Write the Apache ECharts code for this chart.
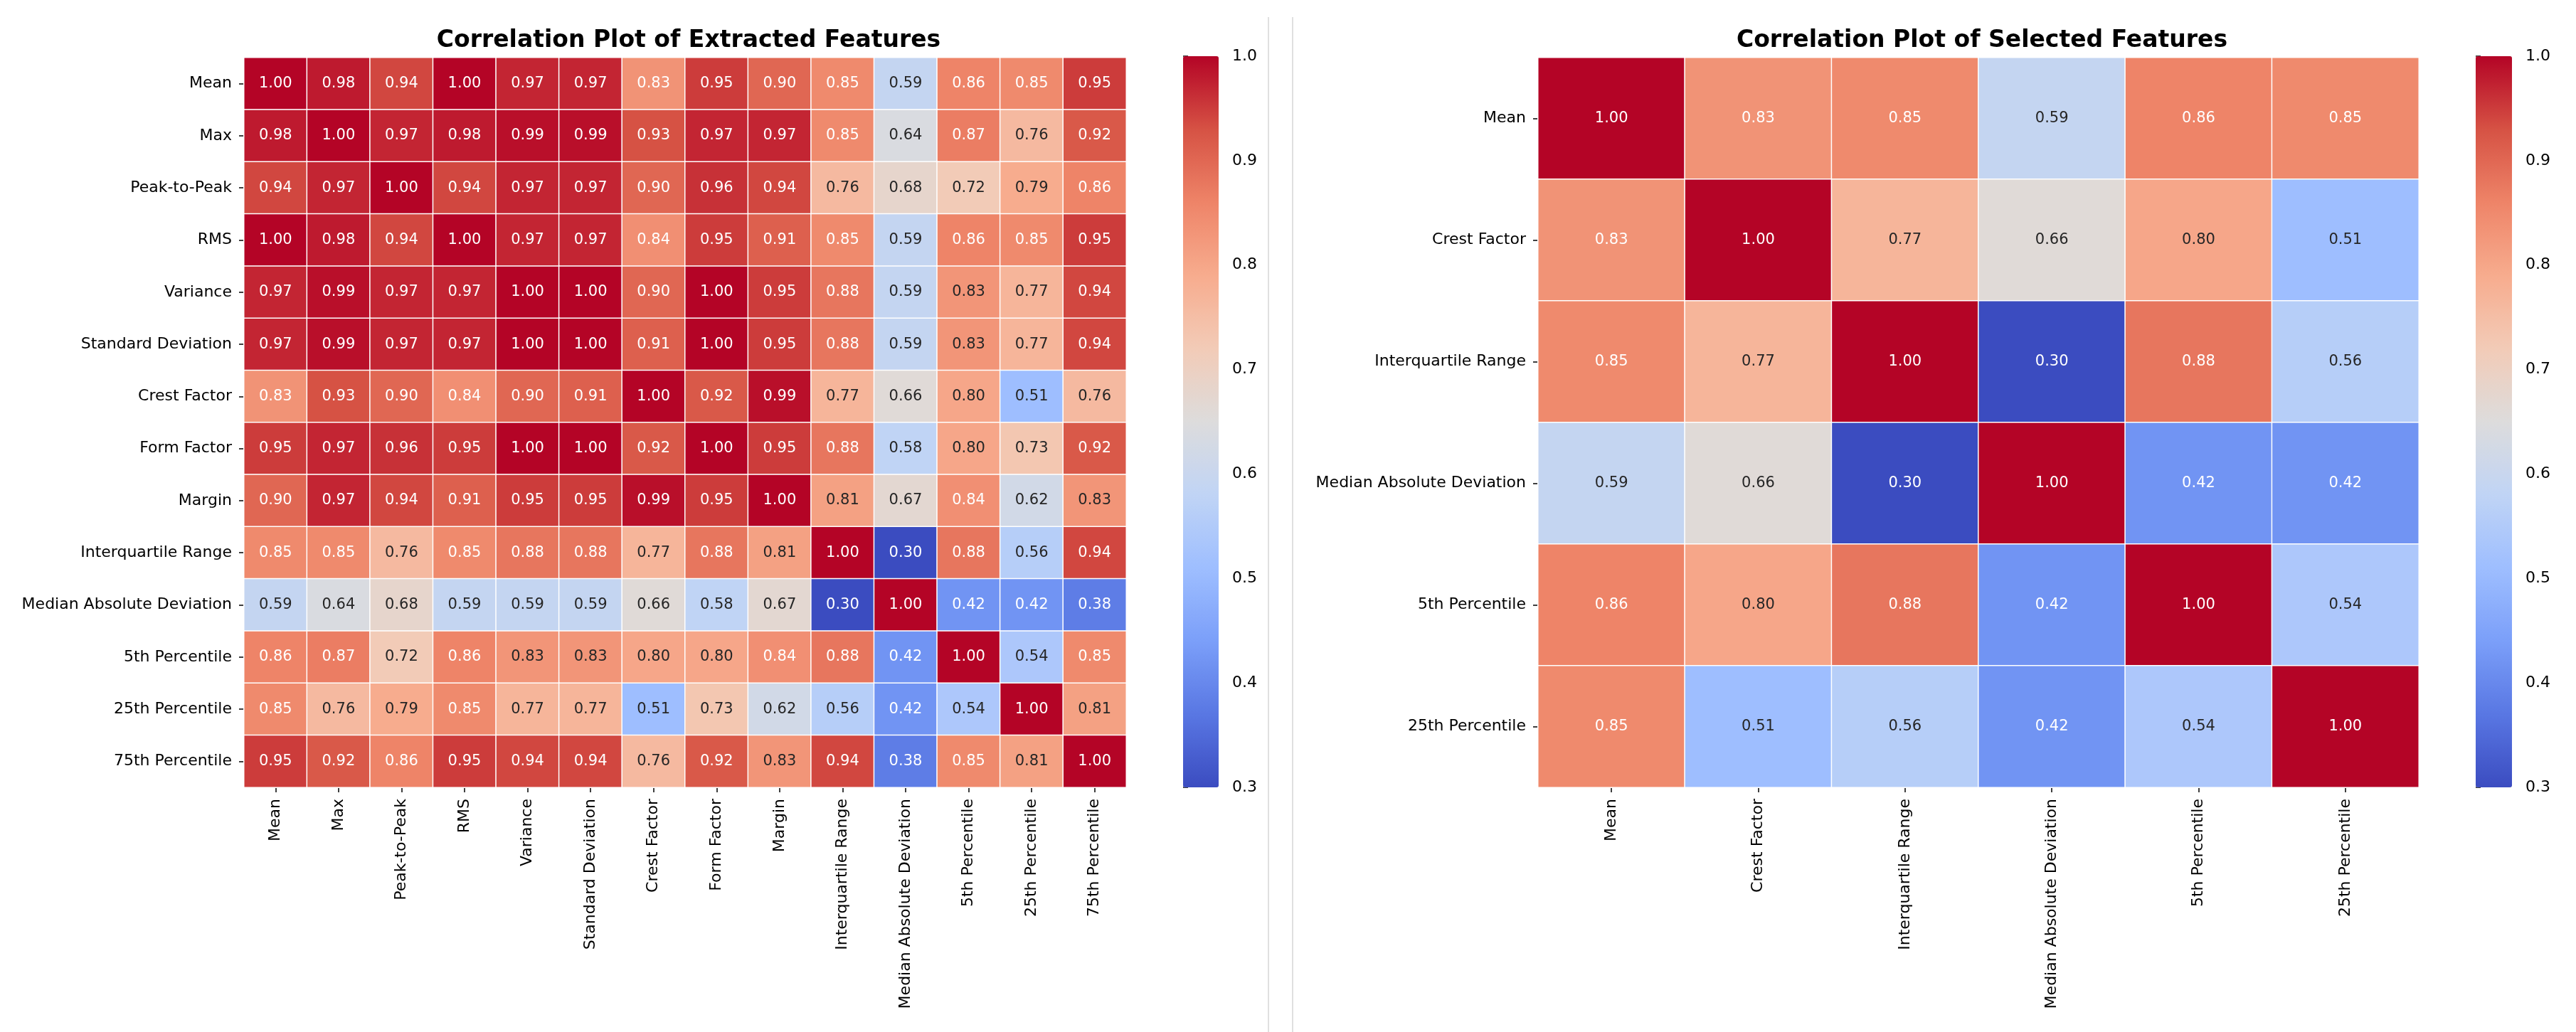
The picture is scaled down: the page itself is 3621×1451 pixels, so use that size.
<!DOCTYPE html>
<html><head><meta charset="utf-8">
<script src="https://cdn.jsdelivr.net/npm/echarts@6/dist/echarts.min.js"></script>
<style>html,body{margin:0;padding:0;background:#fff}#chart{width:3621px;height:1451px}</style>
</head><body><div id="chart"></div>
<script>
// ---------- data ----------
const features = ['Mean','Max','Peak-to-Peak','RMS','Variance','Standard Deviation','Crest Factor','Form Factor','Margin','Interquartile Range','Median Absolute Deviation','5th Percentile','25th Percentile','75th Percentile'];
const rowMean   = [1.00,0.98,0.94,1.00,0.97,0.97,0.834,0.95,0.90,0.85,0.59,0.86,0.85,0.95];
const rowMax    = [0.98,1.00,0.97,0.98,0.99,0.99,0.93,0.97,0.97,0.85,0.64,0.87,0.76,0.92];
const rowP2P    = [0.94,0.97,1.00,0.94,0.97,0.97,0.90,0.96,0.94,0.76,0.68,0.72,0.79,0.86];
const rowRMS    = [1.00,0.98,0.94,1.00,0.97,0.97,0.84,0.95,0.91,0.85,0.59,0.86,0.85,0.95];
const rowVar    = [0.97,0.99,0.97,0.97,1.00,1.00,0.90,1.00,0.95,0.88,0.59,0.83,0.77,0.94];
const rowStd    = [0.97,0.99,0.97,0.97,1.00,1.00,0.91,1.00,0.95,0.88,0.59,0.83,0.77,0.94];
const rowCrest  = [0.834,0.93,0.90,0.84,0.90,0.91,1.00,0.92,0.99,0.77,0.66,0.80,0.51,0.76];
const rowForm   = [0.95,0.97,0.96,0.95,1.00,1.00,0.92,1.00,0.95,0.88,0.58,0.80,0.73,0.92];
const rowMargin = [0.90,0.97,0.94,0.91,0.95,0.95,0.99,0.95,1.00,0.81,0.67,0.84,0.62,0.83];
const rowIQR    = [0.85,0.85,0.76,0.85,0.88,0.88,0.77,0.88,0.81,1.00,0.30,0.88,0.56,0.94];
const rowMAD    = [0.59,0.64,0.68,0.59,0.59,0.59,0.66,0.58,0.67,0.30,1.00,0.42,0.42,0.38];
const rowP5     = [0.86,0.87,0.72,0.86,0.83,0.83,0.80,0.80,0.84,0.88,0.42,1.00,0.54,0.85];
const rowP25    = [0.85,0.76,0.79,0.85,0.77,0.77,0.51,0.73,0.62,0.56,0.42,0.54,1.00,0.81];
const rowP75    = [0.95,0.92,0.86,0.95,0.94,0.94,0.76,0.92,0.83,0.94,0.38,0.85,0.81,1.00];
const extractedMatrix = [rowMean,rowMax,rowP2P,rowRMS,rowVar,rowStd,rowCrest,rowForm,rowMargin,rowIQR,rowMAD,rowP5,rowP25,rowP75];
const selectedFeatures = ['Mean','Crest Factor','Interquartile Range','Median Absolute Deviation','5th Percentile','25th Percentile'];
const titles = ['Correlation Plot of Extracted Features','Correlation Plot of Selected Features'];
const colorMin = 0.3, colorMax = 1.0, colorStep = 0.1;

// ---------- style ----------
const coolwarm = ['#3b4cc0','#5977e3','#7b9ff9','#9ebeff','#c0d4f5','#dddcdc','#f2cbb7','#f7ac8e','#ee8468','#d65244','#b40426'];
const FONT = 'DejaVu Sans';
function hex2rgb(h){return [parseInt(h.slice(1,3),16),parseInt(h.slice(3,5),16),parseInt(h.slice(5,7),16)];}
function cmap(v){
  let t=(v-colorMin)/(colorMax-colorMin); t=Math.max(0,Math.min(1,t));
  const n=coolwarm.length-1, p=t*n, i=Math.min(n-1,Math.floor(p)), f=p-i;
  const a=hex2rgb(coolwarm[i]), b=hex2rgb(coolwarm[i+1]);
  return a.map((c,k)=>c+(b[k]-c)*f);
}
function lum(rgb){
  const l=rgb.map(c=>{c/=255;return c<=0.03928?c/12.92:Math.pow((c+0.055)/1.055,2.4);});
  return 0.2126*l[0]+0.7152*l[1]+0.0722*l[2];
}
function textColor(v){return lum(cmap(v))>0.413?'#262626':'#ffffff';}

function buildData(names){
  const idx=names.map(n=>features.indexOf(n));
  const out=[];
  idx.forEach((ri,y)=>idx.forEach((ci,x)=>{
    const v=extractedMatrix[ri][ci];
    out.push({value:[x,y,v],label:{color:textColor(v)}});
  }));
  return out;
}

const panels = [
  {names:features, grid:{left:343,top:81,width:1240,height:1026}, cbar:{left:1663,top:79,width:50,height:1028}, title:titles[0], cx:963},
  {names:selectedFeatures, grid:{left:2162,top:81,width:1238,height:1026}, cbar:{left:3480,top:79,width:51,height:1028}, title:titles[1], cx:2781}
];

const option = {
  backgroundColor:'#fff',
  animation:false,
  title: panels.map(p=>({text:p.title,left:p.cx,top:36,textAlign:'center',
     textStyle:{fontFamily:FONT,fontSize:33,fontWeight:'bold',color:'#000'}})),
  grid: [],
  xAxis: [],
  yAxis: [],
  visualMap: [],
  series: [],
  graphic: [
    {type:'line',shape:{x1:1783,y1:24,x2:1783,y2:1451},style:{stroke:'#d6d6d6',lineWidth:1.5}},
    {type:'line',shape:{x1:1817,y1:24,x2:1817,y2:1451},style:{stroke:'#d6d6d6',lineWidth:1.5}}
  ]
};

panels.forEach((p,k)=>{
  const g=option.grid.length;
  option.grid.push(Object.assign({containLabel:false},p.grid));
  option.grid.push(Object.assign({containLabel:false},p.cbar));
  option.xAxis.push({type:'category',gridIndex:g,data:p.names,position:'bottom',
    axisLine:{show:false},axisTick:{show:true,alignWithLabel:true,length:7,lineStyle:{color:'#000',width:1.5}},
    axisLabel:{rotate:90,margin:16,fontFamily:FONT,fontSize:22,color:'#000',interval:0},splitLine:{show:false}});
  option.yAxis.push({type:'category',gridIndex:g,data:p.names,inverse:true,
    axisLine:{show:false},axisTick:{show:true,alignWithLabel:true,length:7,lineStyle:{color:'#000',width:1.5}},
    axisLabel:{margin:17,fontFamily:FONT,fontSize:22,color:'#000',interval:0},splitLine:{show:false}});
  // colorbar tick axis
  option.xAxis.push({type:'value',gridIndex:g+1,show:false,min:0,max:1});
  option.yAxis.push({type:'value',gridIndex:g+1,min:colorMin,max:colorMax,interval:colorStep,position:'right',
    axisLine:{show:false},axisTick:{show:true,length:7,lineStyle:{color:'#000',width:1.5}},
    axisLabel:{margin:19,fontFamily:FONT,fontSize:22,color:'#000',formatter:v=>v.toFixed(1)},splitLine:{show:false}});
  const si=option.series.length;
  option.series.push({type:'heatmap',xAxisIndex:g,yAxisIndex:g,data:buildData(p.names),
    itemStyle:{borderColor:'#ffffff',borderWidth:1.5},
    label:{show:true,fontFamily:FONT,fontSize:21,formatter:o=>o.value[2].toFixed(2)},
    emphasis:{disabled:true}});
  option.series.push({type:'scatter',xAxisIndex:g+1,yAxisIndex:g+1,data:[],silent:true});
  option.visualMap.push({type:'continuous',seriesIndex:si,dimension:2,min:colorMin,max:colorMax,
    orient:'vertical',left:p.cbar.left,top:p.cbar.top,itemWidth:p.cbar.width,itemHeight:p.cbar.height,
    padding:0,calculable:false,hoverLink:false,text:null,inRange:{color:coolwarm}});
});

const chart = echarts.init(document.getElementById('chart'),null,{renderer:'canvas'});
chart.setOption(option);
</script></body></html>
